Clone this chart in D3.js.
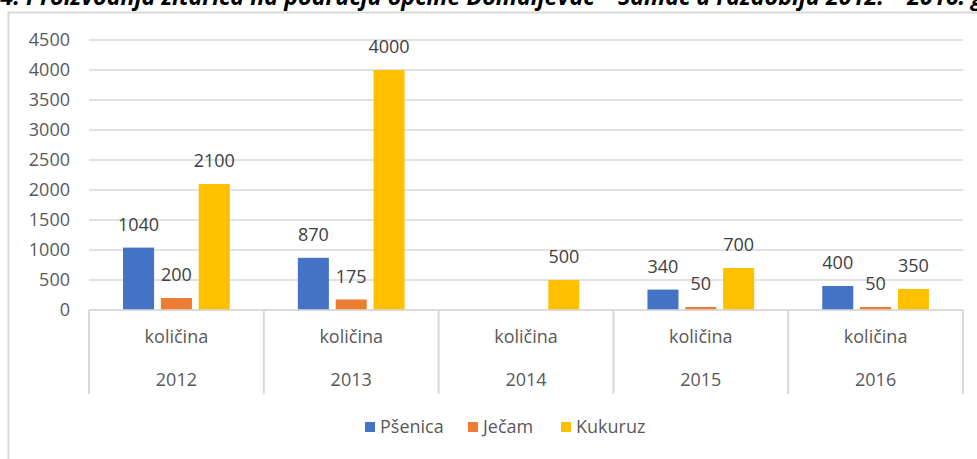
<!DOCTYPE html>
<html>
<head>
<meta charset="utf-8">
<script src="https://cdn.jsdelivr.net/npm/d3@7"></script>
<style>
  body { margin: 0; background: #fff; }
  text { font-family: "Open Sans", sans-serif; }
</style>
</head>
<body>
<div id="chart"></div>
<script>
const width = 977;
const height = 459;

// data
const years = ["2012", "2013", "2014", "2015", "2016"];
const innerLabel = "količina";
const seriesNames = ["Pšenica", "Ječam", "Kukuruz"];
const psenica = [1040, 870, null, 340, 400];
const jecam = [200, 175, null, 50, 50];
const kukuruz = [2100, 4000, 500, 700, 350];
const yTicks = [0, 500, 1000, 1500, 2000, 2500, 3000, 3500, 4000, 4500];
const colors = ["#4472C4", "#ED7D31", "#FFC000"];

const margin = { top: 40, left: 89, right: 14, bottom: 149 };

const svg = d3.select("#chart")
  .append("svg")
  .attr("width", width)
  .attr("height", height);

// caption, cut off at the top of the picture like in the source
svg.append("text")
  .attr("x", 26)
  .attr("y", 5)
  .attr("font-size", 23.3)
  .attr("font-style", "italic")
  .attr("font-weight", "bold")
  .attr("fill", "#000")
  .text("Proizvodnja žitarica na području općine Domaljevac – Šamac u razdoblju 2012. – 2016. godine");
svg.append("text")
  .attr("x", 20)
  .attr("y", 5)
  .attr("text-anchor", "end")
  .attr("font-size", 23.3)
  .attr("font-style", "italic")
  .attr("font-weight", "bold")
  .attr("fill", "#000")
  .text("4.");

// chart area border
svg.append("rect")
  .attr("x", 8.5)
  .attr("y", 12.5)
  .attr("width", width + 20)
  .attr("height", height + 20)
  .attr("fill", "none")
  .attr("stroke", "#d9d9d9")
  .attr("stroke-width", 2);

const x0 = d3.scaleBand()
  .domain(years)
  .range([margin.left, width - margin.right]);

const x1 = d3.scaleBand()
  .domain(seriesNames)
  .range([0, x0.bandwidth()])
  .paddingInner(0.18)
  .paddingOuter(0.9);

const y = d3.scaleLinear()
  .domain([0, 4500])
  .range([height - margin.bottom, margin.top]);

// gridlines
svg.append("g")
  .selectAll("line")
  .data(yTicks)
  .join("line")
  .attr("x1", margin.left)
  .attr("x2", width - margin.right)
  .attr("y1", d => y(d))
  .attr("y2", d => y(d))
  .attr("stroke", "#d9d9d9")
  .attr("stroke-width", 1.5);

const yAxis = d3.axisLeft(y).tickValues(yTicks).tickFormat(d3.format("d")).tickSize(0).tickPadding(19);
svg.append("g")
  .attr("transform", `translate(${margin.left}, 0)`)
  .call(yAxis)
  .call(g => g.select(".domain").remove())
  .call(g => g.selectAll("text")
    .attr("font-size", 18)
    .attr("fill", "#595959")
    .attr("font-family", "Open Sans, sans-serif"));

// bars
const series = [psenica, jecam, kukuruz];
const barData = [];
years.forEach((yr, i) => {
  series.forEach((s, j) => {
    if (s[i] != null) barData.push({ year: yr, name: seriesNames[j], value: s[i], color: colors[j] });
  });
});

const bars = svg.append("g")
  .selectAll("g")
  .data(barData)
  .join("g");

bars.append("rect")
  .attr("x", d => x0(d.year) + x1(d.name))
  .attr("y", d => y(d.value))
  .attr("width", x1.bandwidth())
  .attr("height", d => y(0) - y(d.value))
  .attr("fill", d => d.color);

bars.append("text")
  .attr("x", d => x0(d.year) + x1(d.name) + x1.bandwidth() / 2)
  .attr("y", d => y(d.value) - 17)
  .attr("text-anchor", "middle")
  .attr("font-size", 18)
  .attr("fill", "#404040")
  .text(d => d.value);

// category axis (two levels)
const axisY = y(0);
const axisBottom = 394;
svg.append("line")
  .attr("x1", margin.left)
  .attr("x2", width - margin.right)
  .attr("y1", axisY)
  .attr("y2", axisY)
  .attr("stroke", "#d9d9d9")
  .attr("stroke-width", 1.5);

const bounds = years.map(d => x0(d)).concat([x0(years[years.length - 1]) + x0.bandwidth()]);
svg.append("g")
  .selectAll("line")
  .data(bounds)
  .join("line")
  .attr("x1", d => d)
  .attr("x2", d => d)
  .attr("y1", axisY)
  .attr("y2", axisBottom)
  .attr("stroke", "#d9d9d9")
  .attr("stroke-width", 2);

const cats = svg.append("g")
  .selectAll("g")
  .data(years)
  .join("g")
  .attr("transform", d => `translate(${x0(d) + x0.bandwidth() / 2}, 0)`);

cats.append("text")
  .attr("y", 343)
  .attr("text-anchor", "middle")
  .attr("font-size", 18)
  .attr("fill", "#595959")
  .text(innerLabel);

cats.append("text")
  .attr("y", 386)
  .attr("text-anchor", "middle")
  .attr("font-size", 18)
  .attr("fill", "#595959")
  .text(d => d);

// legend
const legendX = [365, 468, 561];
const legend = svg.append("g")
  .selectAll("g")
  .data(seriesNames)
  .join("g")
  .attr("transform", (d, i) => `translate(${legendX[i]}, 427)`);

legend.append("rect")
  .attr("x", 0)
  .attr("y", -5)
  .attr("width", 10)
  .attr("height", 10)
  .attr("fill", (d, i) => colors[i]);

legend.append("text")
  .attr("x", 15)
  .attr("y", 6)
  .attr("font-size", 18)
  .attr("fill", "#595959")
  .text(d => d);
</script>
</body>
</html>
